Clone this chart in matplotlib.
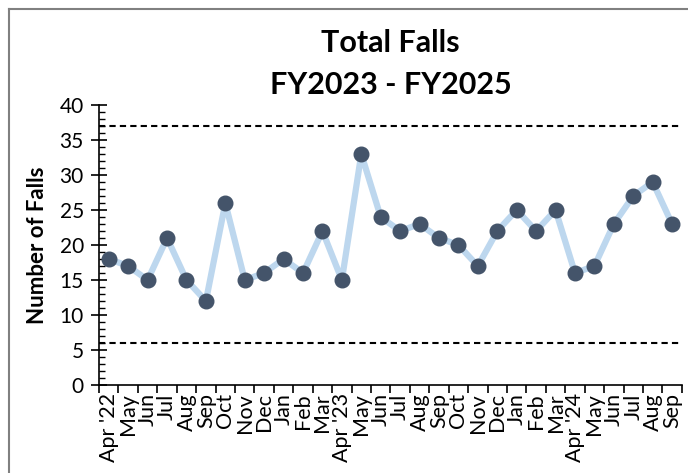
import matplotlib
matplotlib.use("Agg")
import matplotlib.pyplot as plt
from matplotlib.lines import Line2D
from matplotlib.ticker import MultipleLocator, FixedLocator

months = ["Apr '22", "May", "Jun", "Jul", "Aug", "Sep", "Oct", "Nov", "Dec", "Jan", "Feb", "Mar",
          "Apr '23", "May", "Jun", "Jul", "Aug", "Sep", "Oct", "Nov", "Dec", "Jan", "Feb", "Mar",
          "Apr '24", "May", "Jun", "Jul", "Aug", "Sep"]
falls = [18, 17, 15, 21, 15, 12, 26, 15, 16, 18, 16, 22,
         15, 33, 24, 22, 23, 21, 20, 17, 22, 25, 22, 25,
         16, 17, 23, 27, 29, 23]
upper_limit = 37
lower_limit = 6

plt.rcParams['font.family'] = ['Lato', 'DejaVu Sans']

fig = plt.figure(figsize=(6.88, 4.73), dpi=100)
ax = fig.add_axes([0.144, 0.186, 0.847, 0.592])

x = list(range(len(months)))
ax.plot(x, falls, color='#BDD7EE', lw=4.5, zorder=2)
ax.plot(x, falls, 'o', color='#44546A', ms=10.5, zorder=3)
ax.axhline(upper_limit, color='black', ls=(0, (3, 2)), lw=1.5, zorder=1)
ax.axhline(lower_limit, color='black', ls=(0, (3, 2)), lw=1.5, zorder=1)

ax.set_xlim(-0.5, len(months) - 0.5)
ax.set_ylim(0, 40)
ax.yaxis.set_major_locator(MultipleLocator(5))
ax.yaxis.set_minor_locator(MultipleLocator(1))
ax.tick_params(axis='y', which='major', direction='inout', length=12, width=1.2, labelsize=15, pad=5)
ax.tick_params(axis='y', which='minor', direction='in', length=4, width=1)

ax.set_xticks(x)
ax.set_xticklabels(months, rotation=90, fontsize=15.5)
ax.tick_params(axis='x', which='major', length=0, pad=6)
ax.xaxis.set_minor_locator(FixedLocator([i - 0.5 for i in range(len(months) + 1)]))
ax.tick_params(axis='x', which='minor', direction='out', length=6, width=1.2)

for s in ['top', 'right']:
    ax.spines[s].set_visible(False)
for s in ['left', 'bottom']:
    ax.spines[s].set_linewidth(1.2)

ax.set_ylabel('Number of Falls', fontsize=16, fontweight='bold', labelpad=8)
ax.set_title('Total Falls\nFY2023 - FY2025', fontsize=22, fontweight='bold', linespacing=1.6, pad=8)

# grey chart frame
fig.add_artist(Line2D([8.5 / 688, 1], [1 - 9 / 473, 1 - 9 / 473], color='#808080', lw=1.5))
fig.add_artist(Line2D([8.5 / 688, 8.5 / 688], [0, 1 - 9 / 473], color='#808080', lw=1.5))

fig.savefig('out.png', dpi=100)
